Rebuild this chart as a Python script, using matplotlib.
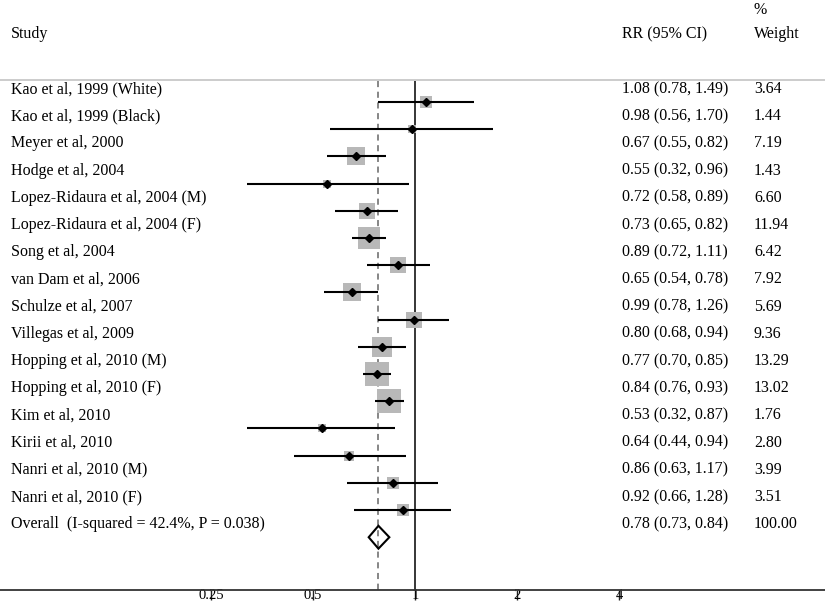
import matplotlib
matplotlib.use("Agg")
import matplotlib.pyplot as plt
from matplotlib.patches import Polygon
from matplotlib.transforms import blended_transform_factory
import numpy as np

studies = ["Kao et al, 1999 (White)", "Kao et al, 1999 (Black)", "Meyer et al, 2000",
           "Hodge et al, 2004", "Lopez-Ridaura et al, 2004 (M)", "Lopez-Ridaura et al, 2004 (F)",
           "Song et al, 2004", "van Dam et al, 2006", "Schulze et al, 2007",
           "Villegas et al, 2009", "Hopping et al, 2010 (M)", "Hopping et al, 2010 (F)",
           "Kim et al, 2010", "Kirii et al, 2010", "Nanri et al, 2010 (M)", "Nanri et al, 2010 (F)"]
rr = [1.08, 0.98, 0.67, 0.55, 0.72, 0.73, 0.89, 0.65, 0.99, 0.80, 0.77, 0.84, 0.53, 0.64, 0.86, 0.92]
lo = [0.78, 0.56, 0.55, 0.32, 0.58, 0.65, 0.72, 0.54, 0.78, 0.68, 0.70, 0.76, 0.32, 0.44, 0.63, 0.66]
hi = [1.49, 1.70, 0.82, 0.96, 0.89, 0.82, 1.11, 0.78, 1.26, 0.94, 0.85, 0.93, 0.87, 0.94, 1.17, 1.28]
weights = [3.64, 1.44, 7.19, 1.43, 6.60, 11.94, 6.42, 7.92, 5.69, 9.36, 13.29, 13.02, 1.76, 2.80, 3.99, 3.51]

overall_label = "Overall  (I-squared = 42.4%, P = 0.038)"
overall_rr, overall_lo, overall_hi, overall_w = 0.78, 0.73, 0.84, 100.00

xticks = [0.25, 0.5, 1, 2, 4]
xticklabels = ["0.25", "0.5", "1", "2", "4"]

plt.rcParams['font.family'] = ['Liberation Serif', 'DejaVu Serif']
FS = 11.5

fig = plt.figure(figsize=(8.25, 6.05), dpi=100)
ax = fig.add_axes([0, 15/605, 1, 590/605])
ax.set_xscale('log', base=2)
ax.set_xlim(2**(-415/102), 2**(410/102))
ax.set_ylim(18.94, -2.75)
for s in ['top', 'left', 'right']:
    ax.spines[s].set_visible(False)
ax.spines['bottom'].set_linewidth(1.3)
ax.spines['bottom'].set_color('#333333')
ax.set_yticks([])
ax.set_xticks(xticks)
ax.set_xticklabels(xticklabels, fontsize=10.5)
ax.xaxis.set_minor_locator(matplotlib.ticker.NullLocator())
ax.tick_params(axis='x', direction='out', length=7, width=1.0, pad=-7.6, color='#222222')

n = len(studies)
rows = np.arange(1, n + 1)
orow = n + 1

header_y = 0.19
ax.axhline(header_y, color='#c4c4c4', lw=1.2)
ax.vlines(1, header_y + 0.05, 18.94, color='black', lw=1.1, zorder=2)
ax.vlines(overall_rr, header_y + 0.05, 18.94, color='#666666', lw=1.1,
          linestyles=(0, (4, 3)), zorder=2)

# squares (area proportional to weight)
for r, e, w in zip(rows, rr, weights):
    ax.plot([e], [r], marker='s', ms=4.6*np.sqrt(w), color='#b8b8b8', mew=0, zorder=3)
ax.hlines(rows, lo, hi, color='black', lw=1.5, zorder=4)
ax.plot(rr, rows, linestyle='none', marker='D', ms=4.5, color='black', zorder=5)

diamond = Polygon([(overall_lo, orow), (overall_rr, orow - 0.42), (overall_hi, orow),
                   (overall_rr, orow + 0.42)], closed=True, facecolor='none',
                  edgecolor='black', lw=1.5, zorder=6)
ax.add_patch(diamond)

tr = blended_transform_factory(fig.transFigure, ax.transData)
xs, xr, xw = 11/825, 622/825, 754/825
off = 0.48
ax.text(xs, -1.5, "Study", transform=tr, fontsize=FS, va='center', ha='left')
ax.text(xr, -1.5, "RR (95% CI)", transform=tr, fontsize=FS, va='center', ha='left')
ax.text(xw, -1.5, "Weight", transform=tr, fontsize=FS, va='center', ha='left')
ax.text(xw, -2.37, "%", transform=tr, fontsize=FS, va='center', ha='left')

for r, s, e, l, h, w in zip(rows, studies, rr, lo, hi, weights):
    ax.text(xs, r - off, s, transform=tr, fontsize=FS, va='center', ha='left')
    ax.text(xr, r - off, f"{e:.2f} ({l:.2f}, {h:.2f})", transform=tr, fontsize=FS, va='center', ha='left')
    ax.text(xw, r - off, f"{w:.2f}", transform=tr, fontsize=FS, va='center', ha='left')

ax.text(xs, orow - off, overall_label, transform=tr, fontsize=FS, va='center', ha='left')
ax.text(xr, orow - off, f"{overall_rr:.2f} ({overall_lo:.2f}, {overall_hi:.2f})", transform=tr,
        fontsize=FS, va='center', ha='left')
ax.text(xw, orow - off, f"{overall_w:.2f}", transform=tr, fontsize=FS, va='center', ha='left')

fig.savefig("out.png", dpi=100)
